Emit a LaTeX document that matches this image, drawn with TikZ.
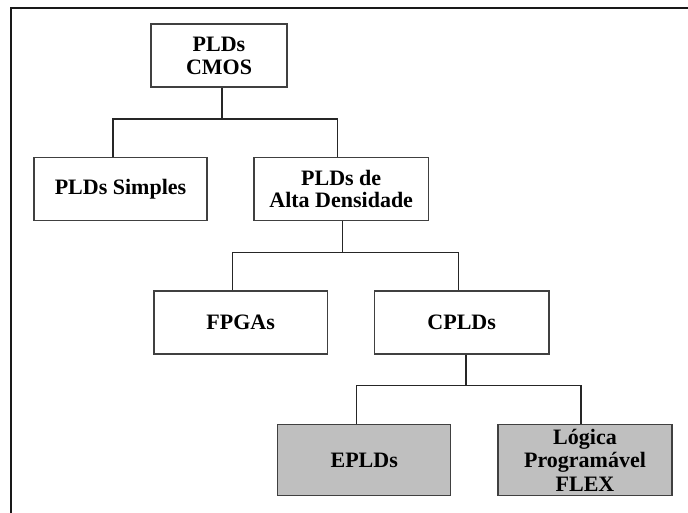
\documentclass[tikz,border=0pt]{standalone}
\usepackage{fontspec}
\setmainfont{Liberation Serif}
\begin{document}
\begin{tikzpicture}[x=1pt,y=1pt,
  box/.style={draw=black!75, line width=1.4pt, rectangle, inner sep=0pt, align=center,
    font=\fontsize{22}{22.5}\selectfont\bfseries},
  wbox/.style={box, fill=white, minimum height=63pt},
  gbox/.style={box, fill=black!25, minimum height=71.4pt},
  conn/.style={draw=black!85, line width=1.1pt}]
\useasboundingbox (0,0) rectangle (688,512);
\draw[line width=2.2pt, black!90] (11,-2) -- (11,504) -- (690,504);

\node[wbox, minimum width=136pt] (cmos) at (219,456.3) {PLDs\\CMOS};
\node[wbox, minimum width=173pt] (simples) at (120.5,322.8) {PLDs Simples};
\node[wbox, minimum width=174.3pt] (alta) at (341.2,322.8) {PLDs de\\Alta Densidade};
\node[wbox, minimum width=173.3pt] (fpga) at (240.7,189.5) {FPGAs};
\node[wbox, minimum width=174.7pt] (cpld) at (461.7,189.5) {CPLDs};
\node[gbox, minimum width=173pt] (epld) at (364.2,52) {EPLDs};
\node[gbox, minimum width=174pt] (flex) at (585,52) {Lógica\\[1pt]Programável\\[1pt]FLEX};

\coordinate (b1) at (0,393);
\coordinate (b2) at (0,259.7);
\coordinate (b3) at (0,126.3);

\draw[conn] ([xshift=3pt]cmos.south) -- ([xshift=3pt]cmos.south |- b1);
\draw[conn] ([xshift=-7.5pt]simples.north) -- ([xshift=-7.5pt]simples.north |- b1) -| ([xshift=-3.5pt]alta.north);

\draw[conn] ([xshift=1pt]alta.south) -- ([xshift=1pt]alta.south |- b2);
\draw[conn] ([xshift=-8pt]fpga.north) -- ([xshift=-8pt]fpga.north |- b2) -| ([xshift=-3.4pt]cpld.north);

\draw[conn] ([xshift=4.3pt]cpld.south) -- ([xshift=4.3pt]cpld.south |- b3);
\draw[conn] ([xshift=-7.5pt]epld.north) -- ([xshift=-7.5pt]epld.north |- b3) -| ([xshift=-4pt]flex.north);
\end{tikzpicture}
\end{document}
